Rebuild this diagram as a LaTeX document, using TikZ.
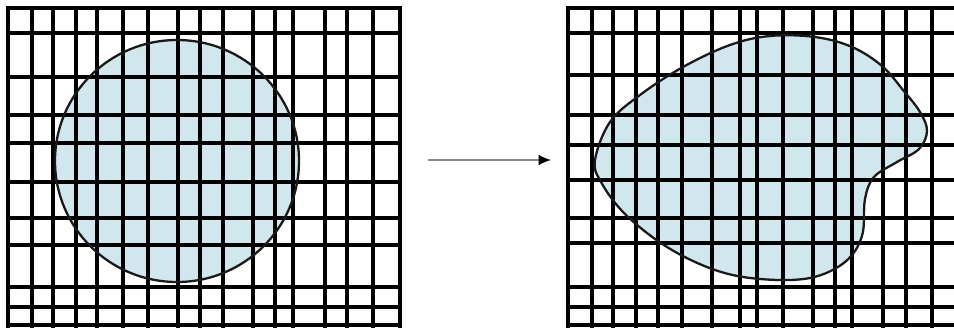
\documentclass[tikz,border=0pt]{standalone}
\usetikzlibrary{arrows.meta}
\definecolor{blobfill}{RGB}{208,231,237}
\definecolor{arrowgray}{RGB}{130,140,140}
\begin{document}
\begin{tikzpicture}[x=0.02cm,y=-0.02cm,
  gridline/.style={line width=2pt,black,line cap=rect},
  outline/.style={line width=1.3pt,black!90},
  blobarea/.style={fill=blobfill},
  flowarrow/.style={line width=0.9pt,arrowgray,-{Latex[length=7pt,width=6pt,black]}}]
\useasboundingbox (0,0) rectangle (954,331);
% ---------- left panel ----------
\fill[blobarea] (177,161) ellipse [x radius=122, y radius=121];
\foreach \x in {8,32,53,76,97,123,148,178,200,223,253,275,293,325,347,373,400}
  \draw[gridline] (\x,8) -- (\x,326);
\foreach \y in {8,33,77,115,143,182,218,245,287,307,325}
  \draw[gridline] (8,\y) -- (400,\y);
\draw[outline] (177,161) ellipse [x radius=122, y radius=121];
% ---------- right panel ----------
\def\blob{plot[smooth cycle,tension=0.6] coordinates {
  (595,160) (610,122) (640,95) (683,67) (730,45) (770,36) (815,37) (852,47)
  (882,66) (903,90) (920,112) (927,131) (919,149) (897,162) (874,177)
  (865,199) (862,236) (845,262) (810,278) (760,279) (715,270) (667,247)
  (625,214) (601,182)}}
\fill[blobarea] \blob;
\foreach \x in {568,592,613,636,658,682,712,740,757,783,813,835,852,883,906,932}
  \draw[gridline] (\x,8) -- (\x,326);
\foreach \y in {8,33,75,115,145,180,218,243,287,307,325}
  \draw[gridline] (568,\y) -- (954,\y);
\draw[outline] \blob;
% ---------- arrow ----------
\coordinate (from) at (428,160);
\coordinate (to) at (551,160);
\draw[flowarrow] (from) -- (to);
\end{tikzpicture}
\end{document}
